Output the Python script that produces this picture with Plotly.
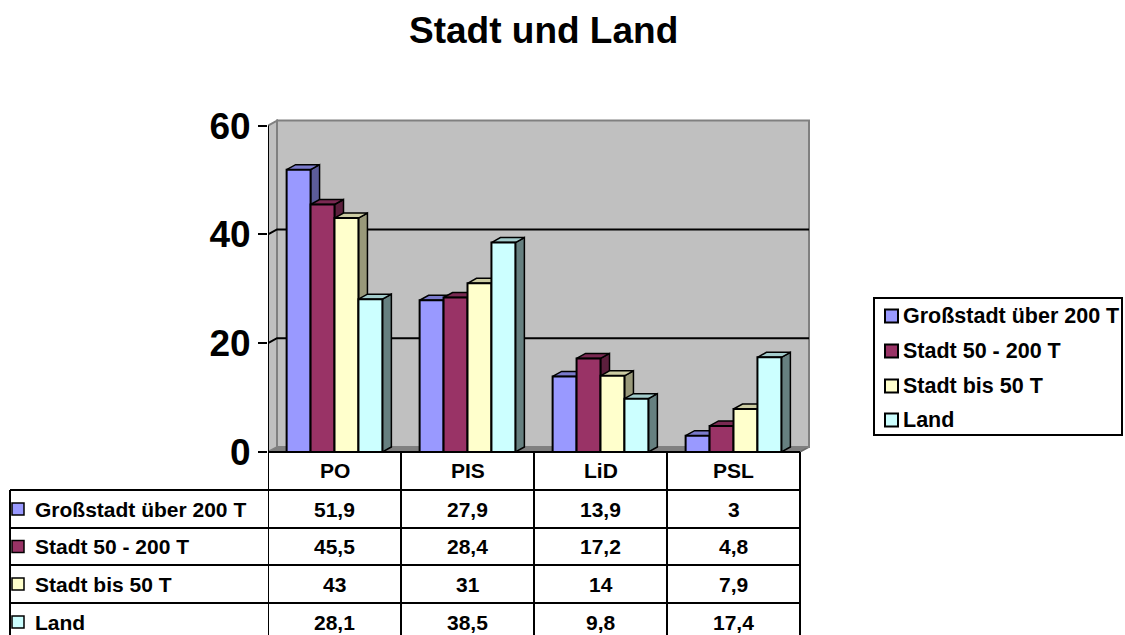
import plotly.graph_objects as go

# ---------------- data ----------------
categories = ["PO", "PIS", "LiD", "PSL"]
series_names = ["Großstadt über 200 T", "Stadt 50 - 200 T", "Stadt bis 50 T", "Land"]
gross = [51.9, 27.9, 13.9, 3]
stadt_50_200 = [45.5, 28.4, 17.2, 4.8]
stadt_bis_50 = [43, 31, 14, 7.9]
land = [28.1, 38.5, 9.8, 17.4]
y_ticks = [0, 20, 40, 60]
title_text = "Stadt und Land"

series_values = [gross, stadt_50_200, stadt_bis_50, land]
front_colors = ["#9999FF", "#993366", "#FFFFCC", "#CCFFFF"]
top_colors = ["#7A7ACC", "#7A2952", "#CCCCA3", "#A3CCCC"]
side_colors = ["#5C5C99", "#5C1F3D", "#99997A", "#668080"]

# ---------------- geometry ----------------
W, H = 1125, 635
FONT = "Arial, Liberation Sans, sans-serif"
X_LEFT_PX, PX_PER_X = 268.0, 133.0       # x=-0.5 at 268 px
Y_ZERO_PX, PX_PER_Y = 452.0, 5.44        # y=0 at 452 px
X_MIN, X_MAX = -0.5, 3.62
Y_MIN, Y_MAX = 0.0, 61.5
DX = 9.0 / PX_PER_X                      # depth offset (x units)
DY = 5.0 / PX_PER_Y                      # depth offset (y units)
BARGAP = 0.28
NS = len(series_values)
BW = (1 - BARGAP) / NS

x_dom = [X_LEFT_PX / W, (X_LEFT_PX + (X_MAX - X_MIN) * PX_PER_X) / W]
y_dom = [1 - Y_ZERO_PX / H, 1 - (Y_ZERO_PX - (Y_MAX - Y_MIN) * PX_PER_Y) / H]


def px(xp):
    return xp / W


def py(yp):
    return 1 - yp / H


fig = go.Figure()

cat_x = list(range(len(categories)))
x_first, x_last = X_MIN, len(categories) - 0.5

# floor
fig.add_trace(go.Scatter(
    x=[x_first, x_last, x_last + DX, x_first + DX, x_first],
    y=[0, 0, DY, DY, 0], mode="lines", fill="toself",
    fillcolor="#808080", line=dict(color="#6a6a6a", width=1.5),
    showlegend=False, hoverinfo="skip"))
# left wall
fig.add_trace(go.Scatter(
    x=[x_first, x_first + DX, x_first + DX, x_first, x_first],
    y=[0, DY, y_ticks[-1] + DY, y_ticks[-1], 0], mode="lines", fill="toself",
    fillcolor="#C0C0C0", line=dict(color="#808080", width=2),
    showlegend=False, hoverinfo="skip"))
# back wall
fig.add_trace(go.Scatter(
    x=[x_first + DX, x_last + DX, x_last + DX, x_first + DX, x_first + DX],
    y=[DY, DY, y_ticks[-1] + DY, y_ticks[-1] + DY, DY], mode="lines", fill="toself",
    fillcolor="#C0C0C0", line=dict(color="#808080", width=2),
    showlegend=False, hoverinfo="skip"))
# gridlines
for v in y_ticks[1:-1]:
    fig.add_trace(go.Scatter(
        x=[x_first, x_first + DX, x_last + DX],
        y=[v, v + DY, v + DY], mode="lines",
        line=dict(color="black", width=2),
        showlegend=False, hoverinfo="skip"))

# side and top faces (drawn left to right)
for c in cat_x:
    for s in range(NS):
        h = series_values[s][c]
        xl = c - (1 - BARGAP) / 2 + s * BW
        xr = xl + BW
        fig.add_trace(go.Scatter(
            x=[xr, xr, xr + DX, xr + DX, xr],
            y=[0, h, h + DY, DY, 0], mode="lines", fill="toself",
            fillcolor=side_colors[s], line=dict(color="black", width=1.5),
            showlegend=False, hoverinfo="skip"))
        fig.add_trace(go.Scatter(
            x=[xl, xr, xr + DX, xl + DX, xl],
            y=[h, h, h + DY, h + DY, h], mode="lines", fill="toself",
            fillcolor=top_colors[s], line=dict(color="black", width=1.5),
            showlegend=False, hoverinfo="skip"))

# front faces as real bars on an overlaid axis pair
for s in range(NS):
    fig.add_trace(go.Bar(
        x=cat_x, y=series_values[s], name=series_names[s],
        marker=dict(color=front_colors[s], line=dict(color="black", width=2)),
        xaxis="x2", yaxis="y2", showlegend=False))

shapes = []
annotations = []

# y axis line (0..60)
shapes.append(dict(type="line", xref="x", yref="y", x0=x_first, x1=x_first,
                   y0=0, y1=y_ticks[-1], line=dict(color="black", width=2)))

# ---------------- data table ----------------
row_lines = [452, 490, 528, 565, 603]
row_bottom = 641
table_left = 10
lw = dict(color="black", width=2)
shapes.append(dict(type="line", xref="x", yref="paper", x0=x_first, x1=x_last,
                   y0=py(row_lines[0]), y1=py(row_lines[0]), line=lw))
for yl in row_lines[1:]:
    shapes.append(dict(type="line", xref="paper", yref="paper",
                       x0=px(table_left), x1=(X_LEFT_PX + (x_last - x_first) * PX_PER_X) / W,
                       y0=py(yl), y1=py(yl), line=lw))
for k in range(len(categories) + 1):
    shapes.append(dict(type="line", xref="x", yref="paper", x0=x_first + k, x1=x_first + k,
                       y0=py(row_lines[0]), y1=py(row_bottom), line=lw))
shapes.append(dict(type="line", xref="paper", yref="paper", x0=px(table_left), x1=px(table_left),
                   y0=py(row_lines[1]), y1=py(row_bottom), line=lw))

tfont = dict(family=FONT, size=21, color="black", weight="bold")
hc = (row_lines[0] + row_lines[1]) / 2
for c, name in zip(cat_x, categories):
    annotations.append(dict(x=c, y=py(hc), xref="x", yref="paper", text=name,
                            showarrow=False, font=tfont, xanchor="center", yanchor="middle"))


def fmt(v):
    return str(int(v)) if float(v).is_integer() else str(v).replace(".", ",")


row_bounds = row_lines[1:] + [row_bottom]
for s in range(NS):
    yc = (row_bounds[s] + row_bounds[s + 1]) / 2
    shapes.append(dict(type="rect", xref="paper", yref="paper",
                       x0=px(12), x1=px(24), y0=py(yc - 6), y1=py(yc + 6),
                       fillcolor=front_colors[s], line=dict(color="black", width=1.5)))
    annotations.append(dict(x=px(33), y=py(yc), xref="paper", yref="paper",
                            text=series_names[s], showarrow=False, font=tfont,
                            xanchor="left", yanchor="middle"))
    for c in cat_x:
        annotations.append(dict(x=c, y=py(yc), xref="x", yref="paper",
                                text=fmt(series_values[s][c]), showarrow=False,
                                font=tfont, xanchor="center", yanchor="middle"))

# ---------------- legend (box, keys, labels) ----------------
leg_box = (874, 298, 1122, 435)
leg_item_y = [316, 351, 386, 420]
shapes.append(dict(type="rect", xref="paper", yref="paper",
                   x0=px(leg_box[0]), x1=px(leg_box[2]), y0=py(leg_box[1]), y1=py(leg_box[3]),
                   fillcolor="white", line=dict(color="black", width=2)))
lfont = dict(family=FONT, size=21.5, color="black", weight="bold")
for s in range(NS):
    yc = leg_item_y[s]
    shapes.append(dict(type="rect", xref="paper", yref="paper",
                       x0=px(885), x1=px(898), y0=py(yc - 6.5), y1=py(yc + 6.5),
                       fillcolor=front_colors[s], line=dict(color="black", width=2)))
    annotations.append(dict(x=px(901), y=py(yc), xref="paper", yref="paper",
                            text=series_names[s], showarrow=False, font=lfont,
                            xanchor="left", yanchor="middle"))

annotations.append(dict(x=px(543), y=py(30), xref="paper", yref="paper", text=title_text,
                        showarrow=False, xanchor="center", yanchor="middle",
                        font=dict(family=FONT, size=37, color="black", weight="bold")))

fig.update_layout(
    width=W, height=H, margin=dict(l=0, r=0, t=0, b=0, autoexpand=False),
    paper_bgcolor="white", plot_bgcolor="rgba(0,0,0,0)",
    barmode="group", bargap=BARGAP, bargroupgap=0,
    showlegend=False,
    xaxis=dict(domain=x_dom, range=[X_MIN, X_MAX], visible=False, fixedrange=True),
    yaxis=dict(domain=y_dom, range=[Y_MIN, Y_MAX], showgrid=False, zeroline=False,
               showline=False, tickvals=y_ticks, ticks="outside", ticklen=9,
               tickwidth=2, tickcolor="black", automargin=False,
               tickfont=dict(family=FONT, size=37, color="black", weight="bold")),
    xaxis2=dict(overlaying="x", range=[X_MIN, X_MAX], visible=False),
    yaxis2=dict(overlaying="y", range=[Y_MIN, Y_MAX], visible=False),
    shapes=shapes, annotations=annotations,
)

fig.write_html("out.html", config={"displayModeBar": False},
               post_script="document.body.style.margin='0';")
